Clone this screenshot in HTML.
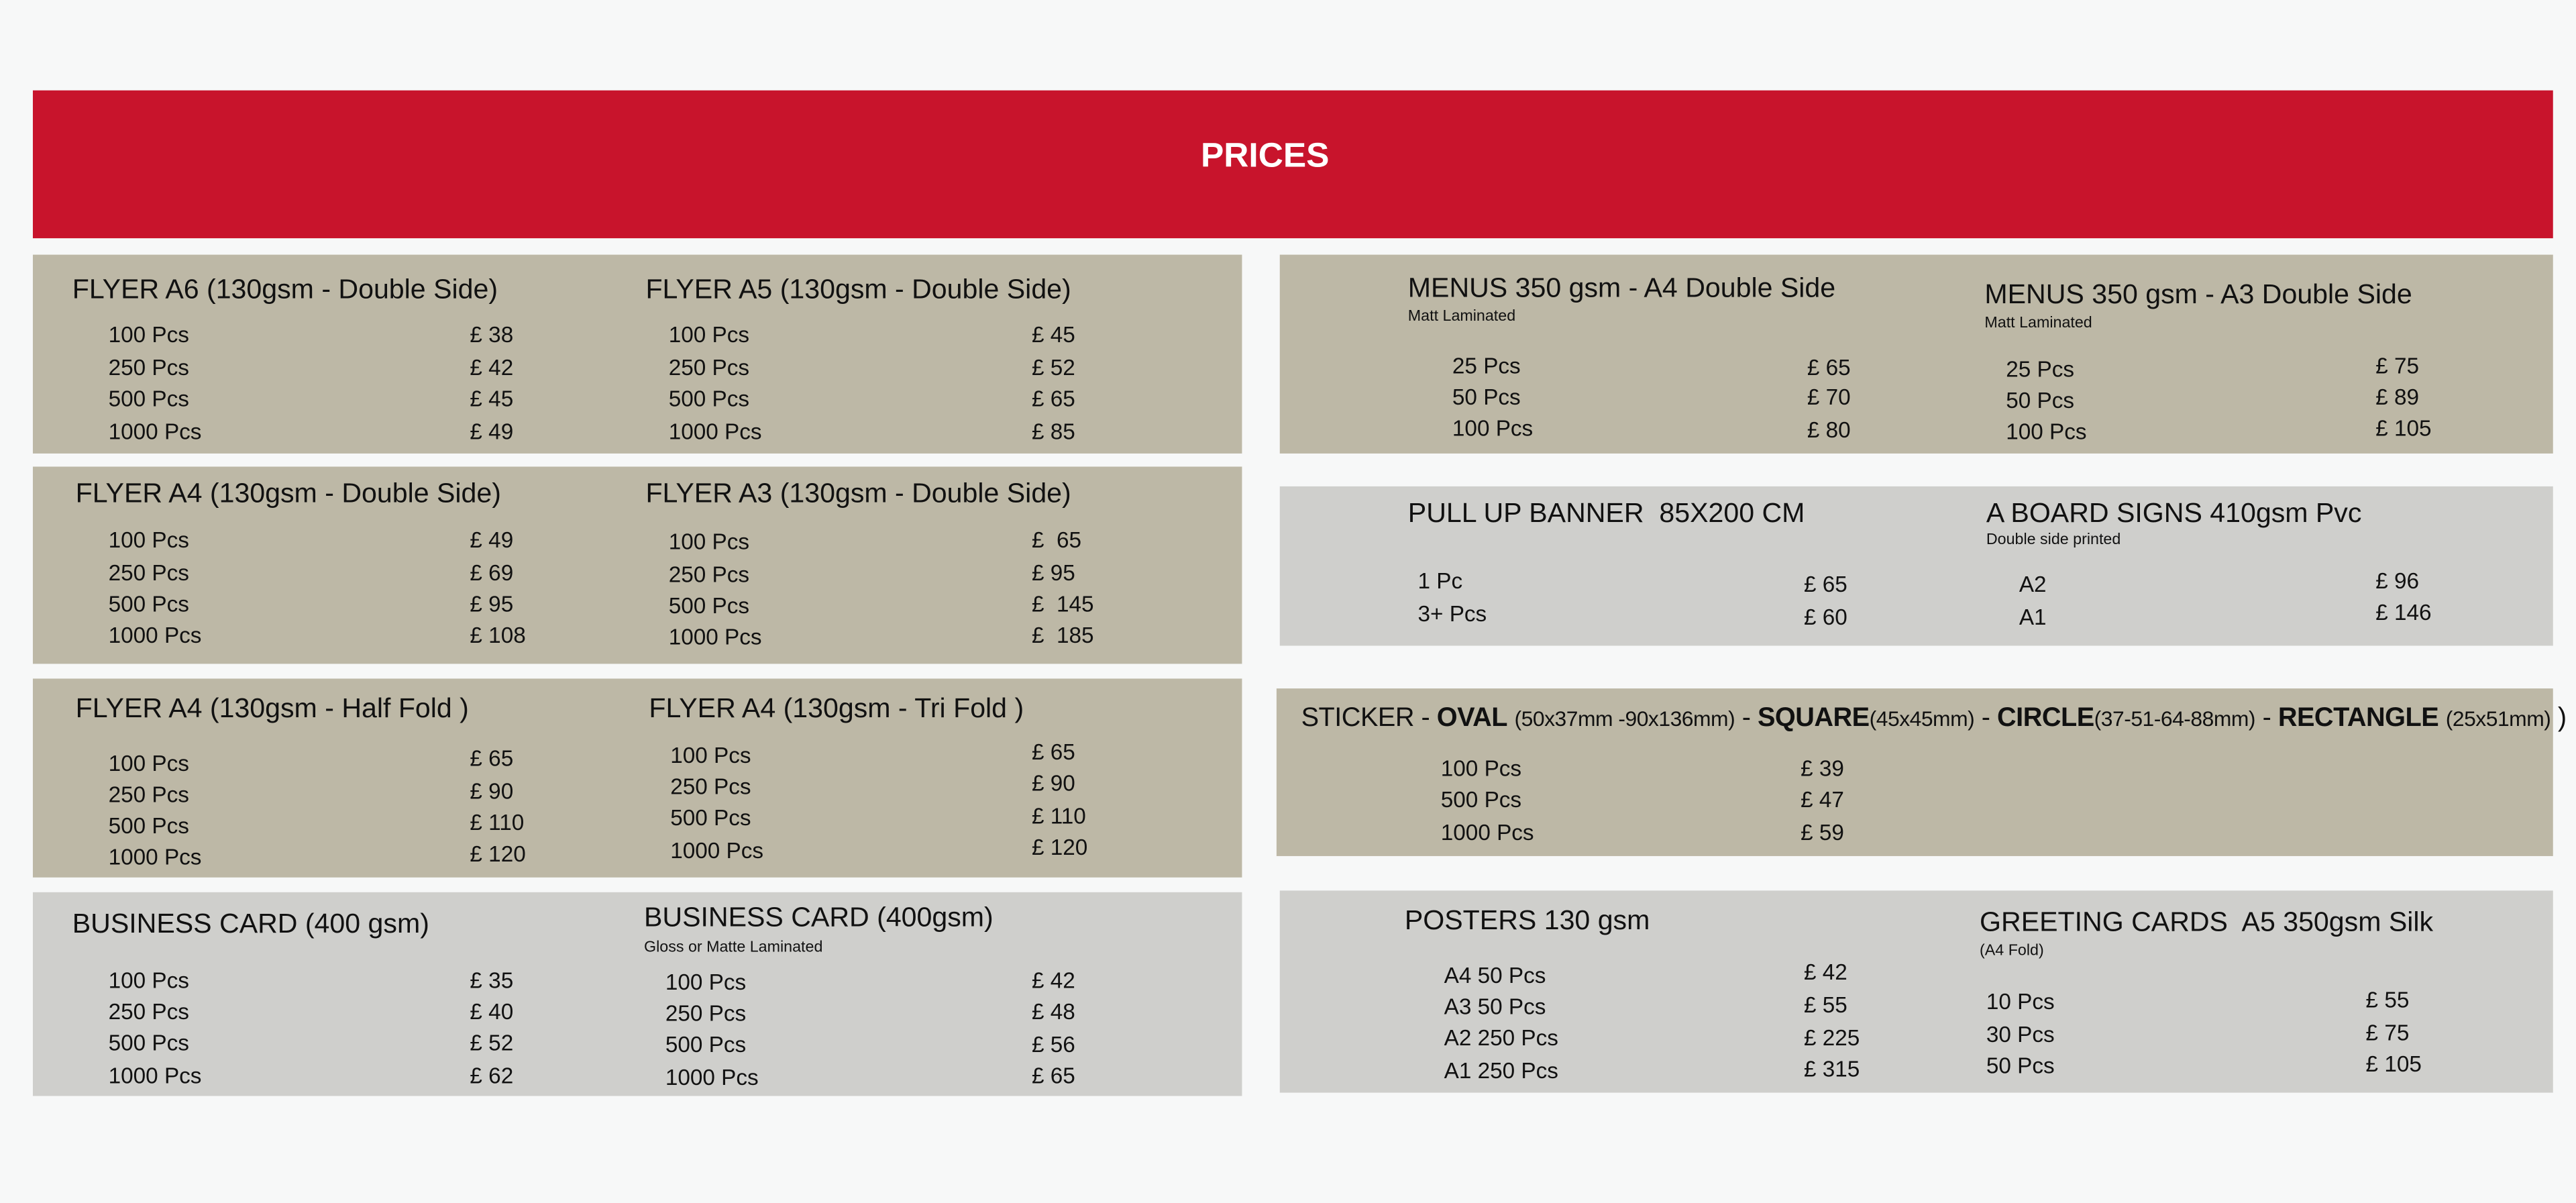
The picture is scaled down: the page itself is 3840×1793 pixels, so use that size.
<!DOCTYPE html>
<html><head><meta charset="utf-8"><style>
html,body{margin:0;padding:0;background:#f7f8f8;}
body{width:3840px;height:1792px;overflow:hidden;position:relative;}
#s{position:absolute;left:0;top:0;width:1568px;height:732px;transform:scale(2.449);transform-origin:0 0;font-family:"Liberation Sans",sans-serif;color:#111;}
.b{position:absolute;}
.tan{background:#bdb8a6;}
.gr{background:#cfcfcc;}
.x{position:absolute;white-space:nowrap;transform:translateY(-50%);line-height:1;}
.t{font-size:16.8px;}
.r{font-size:13.6px;}
.n{font-size:9.5px;}
</style></head><body><div id="s">
<div class="b" style="left:20px;top:55px;width:1534px;height:90px;background:#c8142c;"></div>
<div class="x" style="left:0;width:1540px;text-align:center;top:95px;color:#fff;font-weight:bold;font-size:21px;">PRICES</div>

<div class="b tan" style="left:20px;top:155px;width:736px;height:121px;"></div>
<div class="b tan" style="left:20px;top:284px;width:736px;height:120px;"></div>
<div class="b tan" style="left:20px;top:413px;width:736px;height:121px;"></div>
<div class="b gr" style="left:20px;top:543px;width:736px;height:124px;"></div>
<div class="b tan" style="left:779px;top:155px;width:775px;height:121px;"></div>
<div class="b gr" style="left:779px;top:296px;width:775px;height:97px;"></div>
<div class="b tan" style="left:777px;top:419px;width:777px;height:102px;"></div>
<div class="b gr" style="left:779px;top:542px;width:775px;height:123px;"></div>

<!-- Box1 -->
<div class="x t" style="left:44px;top:177px">FLYER A6 (130gsm - Double Side)</div>
<div class="x r" style="left:66px;top:204px">100 Pcs</div><div class="x r" style="left:286px;top:204px">£ 38</div>
<div class="x r" style="left:66px;top:224px">250 Pcs</div><div class="x r" style="left:286px;top:224px">£ 42</div>
<div class="x r" style="left:66px;top:243px">500 Pcs</div><div class="x r" style="left:286px;top:243px">£ 45</div>
<div class="x r" style="left:66px;top:263px">1000 Pcs</div><div class="x r" style="left:286px;top:263px">£ 49</div>
<div class="x t" style="left:393px;top:177px">FLYER A5 (130gsm - Double Side)</div>
<div class="x r" style="left:407px;top:204px">100 Pcs</div><div class="x r" style="left:628px;top:204px">£ 45</div>
<div class="x r" style="left:407px;top:224px">250 Pcs</div><div class="x r" style="left:628px;top:224px">£ 52</div>
<div class="x r" style="left:407px;top:243px">500 Pcs</div><div class="x r" style="left:628px;top:243px">£ 65</div>
<div class="x r" style="left:407px;top:263px">1000 Pcs</div><div class="x r" style="left:628px;top:263px">£ 85</div>

<!-- Box2 -->
<div class="x t" style="left:46px;top:301px">FLYER A4 (130gsm - Double Side)</div>
<div class="x r" style="left:66px;top:329px">100 Pcs</div><div class="x r" style="left:286px;top:329px">£ 49</div>
<div class="x r" style="left:66px;top:349px">250 Pcs</div><div class="x r" style="left:286px;top:349px">£ 69</div>
<div class="x r" style="left:66px;top:368px">500 Pcs</div><div class="x r" style="left:286px;top:368px">£ 95</div>
<div class="x r" style="left:66px;top:387px">1000 Pcs</div><div class="x r" style="left:286px;top:387px">£ 108</div>
<div class="x t" style="left:393px;top:301px">FLYER A3 (130gsm - Double Side)</div>
<div class="x r" style="left:407px;top:330px">100 Pcs</div><div class="x r" style="left:628px;top:329px">£&nbsp; 65</div>
<div class="x r" style="left:407px;top:350px">250 Pcs</div><div class="x r" style="left:628px;top:349px">£ 95</div>
<div class="x r" style="left:407px;top:369px">500 Pcs</div><div class="x r" style="left:628px;top:368px">£&nbsp; 145</div>
<div class="x r" style="left:407px;top:388px">1000 Pcs</div><div class="x r" style="left:628px;top:387px">£&nbsp; 185</div>

<!-- Box3 -->
<div class="x t" style="left:46px;top:432px">FLYER A4 (130gsm - Half Fold )</div>
<div class="x r" style="left:66px;top:465px">100 Pcs</div><div class="x r" style="left:286px;top:462px">£ 65</div>
<div class="x r" style="left:66px;top:484px">250 Pcs</div><div class="x r" style="left:286px;top:482px">£ 90</div>
<div class="x r" style="left:66px;top:503px">500 Pcs</div><div class="x r" style="left:286px;top:501px">£ 110</div>
<div class="x r" style="left:66px;top:522px">1000 Pcs</div><div class="x r" style="left:286px;top:520px">£ 120</div>
<div class="x t" style="left:395px;top:432px">FLYER A4 (130gsm - Tri Fold )</div>
<div class="x r" style="left:408px;top:460px">100 Pcs</div><div class="x r" style="left:628px;top:458px">£ 65</div>
<div class="x r" style="left:408px;top:479px">250 Pcs</div><div class="x r" style="left:628px;top:477px">£ 90</div>
<div class="x r" style="left:408px;top:498px">500 Pcs</div><div class="x r" style="left:628px;top:497px">£ 110</div>
<div class="x r" style="left:408px;top:518px">1000 Pcs</div><div class="x r" style="left:628px;top:516px">£ 120</div>

<!-- Box4 -->
<div class="x t" style="left:44px;top:563px">BUSINESS CARD (400 gsm)</div>
<div class="x r" style="left:66px;top:597px">100 Pcs</div><div class="x r" style="left:286px;top:597px">£ 35</div>
<div class="x r" style="left:66px;top:616px">250 Pcs</div><div class="x r" style="left:286px;top:616px">£ 40</div>
<div class="x r" style="left:66px;top:635px">500 Pcs</div><div class="x r" style="left:286px;top:635px">£ 52</div>
<div class="x r" style="left:66px;top:655px">1000 Pcs</div><div class="x r" style="left:286px;top:655px">£ 62</div>
<div class="x t" style="left:392px;top:559px">BUSINESS CARD (400gsm)</div>
<div class="x n" style="left:392px;top:577px">Gloss or Matte Laminated</div>
<div class="x r" style="left:405px;top:598px">100 Pcs</div><div class="x r" style="left:628px;top:597px">£ 42</div>
<div class="x r" style="left:405px;top:617px">250 Pcs</div><div class="x r" style="left:628px;top:616px">£ 48</div>
<div class="x r" style="left:405px;top:636px">500 Pcs</div><div class="x r" style="left:628px;top:636px">£ 56</div>
<div class="x r" style="left:405px;top:656px">1000 Pcs</div><div class="x r" style="left:628px;top:655px">£ 65</div>

<!-- R1 -->
<div class="x t" style="left:857px;top:176px">MENUS 350 gsm - A4 Double Side</div>
<div class="x n" style="left:857px;top:193px">Matt Laminated</div>
<div class="x r" style="left:884px;top:223px">25 Pcs</div><div class="x r" style="left:1100px;top:224px">£ 65</div>
<div class="x r" style="left:884px;top:242px">50 Pcs</div><div class="x r" style="left:1100px;top:242px">£ 70</div>
<div class="x r" style="left:884px;top:261px">100 Pcs</div><div class="x r" style="left:1100px;top:262px">£ 80</div>
<div class="x t" style="left:1208px;top:180px">MENUS 350 gsm - A3 Double Side</div>
<div class="x n" style="left:1208px;top:197px">Matt Laminated</div>
<div class="x r" style="left:1221px;top:225px">25 Pcs</div><div class="x r" style="left:1446px;top:223px">£ 75</div>
<div class="x r" style="left:1221px;top:244px">50 Pcs</div><div class="x r" style="left:1446px;top:242px">£ 89</div>
<div class="x r" style="left:1221px;top:263px">100 Pcs</div><div class="x r" style="left:1446px;top:261px">£ 105</div>

<!-- R2 -->
<div class="x t" style="left:857px;top:313px">PULL UP BANNER&nbsp; 85X200 CM</div>
<div class="x r" style="left:863px;top:354px">1 Pc</div><div class="x r" style="left:1098px;top:356px">£ 65</div>
<div class="x r" style="left:863px;top:374px">3+ Pcs</div><div class="x r" style="left:1098px;top:376px">£ 60</div>
<div class="x t" style="left:1209px;top:313px">A BOARD SIGNS 410gsm Pvc</div>
<div class="x n" style="left:1209px;top:329px">Double side printed</div>
<div class="x r" style="left:1229px;top:356px">A2</div><div class="x r" style="left:1446px;top:354px">£ 96</div>
<div class="x r" style="left:1229px;top:376px">A1</div><div class="x r" style="left:1446px;top:373px">£ 146</div>

<!-- R3 -->
<div class="x" style="left:792px;top:437px;font-size:16.2px;letter-spacing:-0.2px">STICKER - <b>OVAL</b> <span style="font-size:13px">(50x37mm -90x136mm)</span> - <b>SQUARE</b><span style="font-size:13px">(45x45mm)</span> - <b>CIRCLE</b><span style="font-size:13px">(37-51-64-88mm)</span> - <b>RECTANGLE</b> <span style="font-size:13px">(25x51mm)</span> )</div>
<div class="x r" style="left:877px;top:468px">100 Pcs</div><div class="x r" style="left:1096px;top:468px">£ 39</div>
<div class="x r" style="left:877px;top:487px">500 Pcs</div><div class="x r" style="left:1096px;top:487px">£ 47</div>
<div class="x r" style="left:877px;top:507px">1000 Pcs</div><div class="x r" style="left:1096px;top:507px">£ 59</div>

<!-- R4 -->
<div class="x t" style="left:855px;top:561px">POSTERS 130 gsm</div>
<div class="x r" style="left:879px;top:594px">A4 50 Pcs</div><div class="x r" style="left:1098px;top:592px">£ 42</div>
<div class="x r" style="left:879px;top:613px">A3 50 Pcs</div><div class="x r" style="left:1098px;top:612px">£ 55</div>
<div class="x r" style="left:879px;top:632px">A2 250 Pcs</div><div class="x r" style="left:1098px;top:632px">£ 225</div>
<div class="x r" style="left:879px;top:652px">A1 250 Pcs</div><div class="x r" style="left:1098px;top:651px">£ 315</div>
<div class="x t" style="left:1205px;top:562px">GREETING CARDS&nbsp; A5 350gsm Silk</div>
<div class="x n" style="left:1205px;top:579px">(A4 Fold)</div>
<div class="x r" style="left:1209px;top:610px">10 Pcs</div><div class="x r" style="left:1440px;top:609px">£ 55</div>
<div class="x r" style="left:1209px;top:630px">30 Pcs</div><div class="x r" style="left:1440px;top:629px">£ 75</div>
<div class="x r" style="left:1209px;top:649px">50 Pcs</div><div class="x r" style="left:1440px;top:648px">£ 105</div>
</div></body></html>
